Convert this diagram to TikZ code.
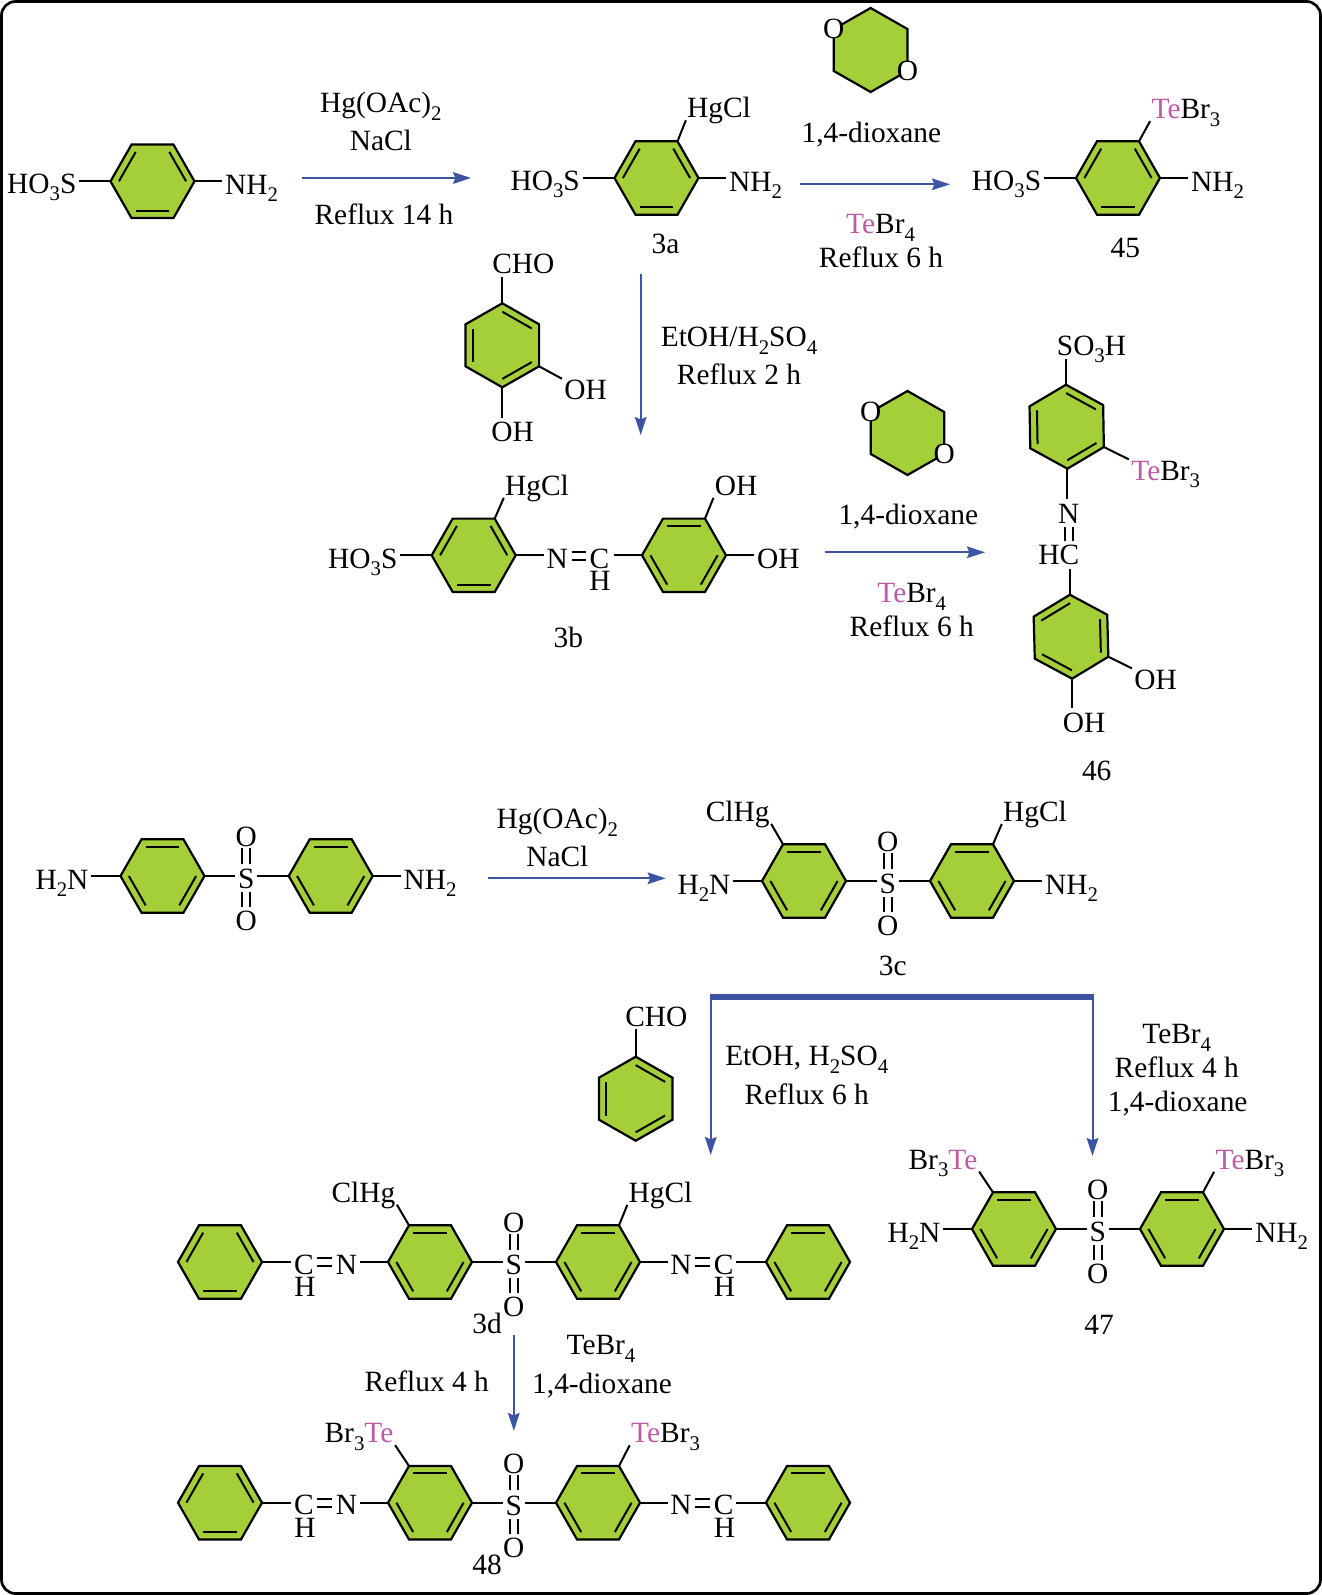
\documentclass[tikz,border=0pt]{standalone}
\usepackage{fontspec}
\setmainfont{Liberation Serif}
\usetikzlibrary{calc,arrows.meta}
\definecolor{ringgreen}{HTML}{A5CF39}
\definecolor{rxnblue}{HTML}{3B54A4}
\definecolor{tecol}{HTML}{BE5AA6}
\newcommand{\sbs}[1]{\raisebox{-0.26em}{\fontsize{10.4}{11}\selectfont #1}}
\newcommand{\TE}{\textcolor{tecol}{Te}}
\tikzset{
  lbl/.style={inner sep=0pt,text height=9.7pt,text depth=0pt,font=\fontsize{14.7}{16}\selectfont},
  ringedge/.style={draw=black,fill=ringgreen,line width=1.1pt,line join=miter},
  innerbond/.style={draw=black,line width=1pt},
  bond/.style={draw=black,line width=1pt,shorten >=1.2pt},
  dblbond/.style={draw=black,line width=.95pt},
  rxn/.style={draw=rxnblue,line width=1pt,-{Stealth[length=9pt,width=5.8pt,inset=1.2pt]}},
  ringO/.style={lbl,circle,fill=white,minimum size=0pt,inner sep=-1.9pt},
}
% flat-topped ring
\newcommand{\hring}[3]{%
  \begin{scope}[shift={(#2,#3)}]
    \coordinate (#1c) at (0,0);
    \coordinate (#1L) at (-42,0);
    \coordinate (#1TL) at (-21,-36.7);
    \coordinate (#1TR) at (21,-36.7);
    \coordinate (#1R) at (42,0);
    \coordinate (#1BR) at (21,36.7);
    \coordinate (#1BL) at (-21,36.7);
    \draw[ringedge] (#1L)--(#1TL)--(#1TR)--(#1R)--(#1BR)--(#1BL)--cycle;
  \end{scope}}
% pointy-topped ring
\newcommand{\vring}[4]{%
  \begin{scope}[shift={(#2,#3)},rotate=#4]
    \coordinate (#1c) at (0,0);
    \coordinate (#1T) at (0,-42);
    \coordinate (#1UR) at (36.8,-21);
    \coordinate (#1LR) at (36.8,21);
    \coordinate (#1B) at (0,42);
    \coordinate (#1LL) at (-36.8,21);
    \coordinate (#1UL) at (-36.8,-21);
    \draw[ringedge] (#1T)--(#1UR)--(#1LR)--(#1B)--(#1LL)--(#1UL)--cycle;
  \end{scope}}
\newcommand{\dblb}[2]{%
  \foreach \a/\b in {#2} {\draw[innerbond] ($(#1c)!0.8!(#1\a)$) -- ($(#1c)!0.8!(#1\b)$);}}
\newcommand{\ringA}[3]{\hring{#1}{#2}{#3}\dblb{#1}{L/TL,TR/R,BR/BL}}
\newcommand{\ringB}[3]{\hring{#1}{#2}{#3}\dblb{#1}{TL/TR,L/BL,R/BR}}
% sulfone bridge between two rings
\newcommand{\sulfo}[4]{% prefix, x, ring y, rings prefix pair handled by caller
  \node[lbl] (#1S) at (#2,#3+3) {S};
  \node[lbl] (#1Oa) at (#2,#3-39.3) {O};
  \node[lbl] (#1Ob) at (#2,#3+44.7) {O};
  \foreach \d in {-2pt,2pt} {
    \draw[dblbond,shorten <=.8pt,shorten >=2.6pt] ([xshift=\d]#1Oa.south) -- ([xshift=\d]#1S.north);
    \draw[dblbond,shorten <=1.6pt,shorten >=1.8pt] ([xshift=\d]#1S.south) -- ([xshift=\d]#1Ob.north);
  }}
% imine double bond between two atoms
\newcommand{\imine}[2]{%
  \draw[dblbond,shorten <=1.6pt,shorten >=1.6pt] ([yshift=3.3pt]#1.east) -- ([yshift=3.3pt]#2.west);
  \draw[dblbond,shorten <=1.6pt,shorten >=1.6pt] ([yshift=-.7pt]#1.east) -- ([yshift=-.7pt]#2.west);}
% a row of four rings (3d, 48)
\newcommand{\longrow}[4]{% prefix, ring y, left label, right label
  \ringA{#1a}{220}{#2}
  \ringB{#1b}{430}{#2}
  \ringB{#1c}{598}{#2}
  \ringB{#1d}{808}{#2}
  \sulfo{#1s}{513.8}{#2}{}
  \node[lbl] (#1C1) at (304,#2+2.5) {C};
  \node[lbl] (#1H1) at (305,#2+25) {H};
  \node[lbl] (#1N1) at (346.4,#2+2.5) {N};
  \node[lbl] (#1N2) at (681,#2+2.5) {N};
  \node[lbl] (#1C2) at (723.7,#2+2.5) {C};
  \node[lbl] (#1H2) at (724.5,#2+25) {H};
  \imine{#1C1}{#1N1}
  \imine{#1N2}{#1C2}
  \draw[bond] (#1aR) -- (#1aR -| #1C1.west);
  \draw[bond] (#1bL) -- (#1bL -| #1N1.east);
  \draw[bond] (#1bR) -- (#1bR -| #1sS.west);
  \draw[bond] (#1cL) -- (#1cL -| #1sS.east);
  \draw[bond] (#1cR) -- (#1cR -| #1N2.west);
  \draw[bond] (#1dL) -- (#1dL -| #1C2.east);
  \node[lbl] (#1lab1) at (#3) {#4};
  }
\begin{document}
\begin{tikzpicture}[x=.5pt,y=-.5pt]
\useasboundingbox (0,0) rectangle (1322,1595);
\draw[line width=1.35pt,rounded corners=7pt,fill=white] (1.5,1.5) rectangle (1320.5,1593.5);

% ---------- row 1
\ringA{ra}{152.5}{181.3}
\node[lbl] (ho1) at (41.8,183.5) {HO\sbs{3}S};
\node[lbl] (nh1) at (251.5,184.5) {NH\sbs{2}};
\draw[bond] (raL) -- (raL -| ho1.east);
\draw[bond] (raR) -- (raR -| nh1.west);

\coordinate (a1s) at (301.8,178); \coordinate (a1e) at (471,178);
\draw[rxn] (a1s) -- (a1e);
\node[lbl] (t1a) at (380.8,103) {Hg(OAc)\sbs{2}};
\node[lbl] (t1b) at (380.8,140.5) {NaCl};
\node[lbl] (t1c) at (384,215) {Reflux 14 h};

% 3a
\ringA{rb}{656.5}{178}
\node[lbl] (ho2) at (545.2,180.5) {HO\sbs{3}S};
\node[lbl] (nh2) at (755.5,181.5) {NH\sbs{2}};
\node[lbl] (hg3a) at (719,108) {HgCl};
\node[lbl] (l3a) at (665.5,244) {3a};
\draw[bond] (rbL) -- (rbL -| ho2.east);
\draw[bond] (rbR) -- (rbR -| nh2.west);
\draw[bond] (rbTR) -- (hg3a.south west);

% dioxane 1
\vring{dxa}{870.6}{50}{0}
\node[ringO] (oa1) at (dxaUL) {O};
\node[ringO] (oa2) at (dxaLR) {O};
\node[lbl] (t2a) at (871.4,132.7) {1,4-dioxane};
\coordinate (a2s) at (800.4,184.3); \coordinate (a2e) at (950,184.3);
\draw[rxn] (a2s) -- (a2e);
\node[lbl] (t2b) at (880.6,224) {\TE Br\sbs{4}};
\node[lbl] (t2c) at (881,258) {Reflux 6 h};

% 45
\ringA{rc}{1118}{178}
\node[lbl] (ho3) at (1006.5,180.5) {HO\sbs{3}S};
\node[lbl] (nh3) at (1217.5,181.5) {NH\sbs{2}};
\node[lbl] (te45) at (1186,109) {\TE Br\sbs{3}};
\node[lbl] (l45) at (1125.4,248) {45};
\draw[bond] (rcL) -- (rcL -| ho3.east);
\draw[bond] (rcR) -- (rcR -| nh3.west);
\draw[bond] (rcTR) -- (te45.south west);

% ---------- aldehyde + 3b
\coordinate (a3s) at (640.7,274); \coordinate (a3e) at (640.7,435);
\draw[rxn] (a3s) -- (a3e);
\node[lbl] (t3a) at (739,337) {EtOH/H\sbs{2}SO\sbs{4}};
\node[lbl] (t3b) at (739,375) {Reflux 2 h};

\vring{rd}{502.3}{345.3}{0}
\dblb{rd}{T/UR,UL/LL,LR/B}
\node[lbl] (cho1) at (523.3,264) {CHO};
\node[lbl] (oh1) at (585.7,390) {OH};
\node[lbl] (oh2) at (512.7,432) {OH};
\draw[bond] (rdT) -- (rdT |- cho1.south);
\draw[bond] (rdLR) -- (oh1.north west);
\draw[bond,shorten >=2pt] (rdB) -- (rdB |- oh2.north);

\ringA{re}{473.7}{555.3}
\ringB{rf}{684}{555.3}
\node[lbl] (ho4) at (362.8,558.3) {HO\sbs{3}S};
\node[lbl] (hg3b) at (537,485.5) {HgCl};
\node[lbl] (n3b) at (557.3,558.3) {N};
\node[lbl] (c3b) at (599.3,558.3) {C};
\node[lbl] (h3b) at (600,580.7) {H};
\node[lbl] (oh3) at (736,485.5) {OH};
\node[lbl] (oh4) at (778.3,558.3) {OH};
\node[lbl] (l3b) at (568.3,637.7) {3b};
\draw[bond] (reL) -- (reL -| ho4.east);
\draw[bond] (reTR) -- (hg3b.south west);
\draw[bond] (reR) -- (reR -| n3b.west);
\imine{n3b}{c3b}
\draw[bond,shorten >=2.2pt] (rfL) -- (rfL -| c3b.east);
\draw[bond] (rfTR) -- (oh3.south west);
\draw[bond] (rfR) -- (rfR -| oh4.west);

% dioxane 2 and arrow
\vring{dxb}{907.5}{433}{0}
\node[ringO] (ob1) at (dxbUL) {O};
\node[ringO] (ob2) at (dxbLR) {O};
\node[lbl] (t4a) at (908.3,515) {1,4-dioxane};
\coordinate (a4s) at (824.7,552.3); \coordinate (a4e) at (985,552.3);
\draw[rxn] (a4s) -- (a4e);
\node[lbl] (t4b) at (911.7,593) {\TE Br\sbs{4}};
\node[lbl] (t4c) at (911.7,626.7) {Reflux 6 h};

% 46
\vring{rg}{1066.7}{426.7}{1}
\dblb{rg}{T/UR,UL/LL,LR/B}
\vring{rh}{1071}{636.7}{1.5}
\dblb{rh}{T/UL,UR/LR,LL/B}
\node[lbl] (so3) at (1091.5,345.5) {SO\sbs{3}H};
\node[lbl] (te46) at (1165.7,470.5) {\TE Br\sbs{3}};
\node[lbl] (n46) at (1068.7,513.3) {N};
\node[lbl] (hc46) at (1058.7,555) {HC};
\node[lbl] (oh5) at (1155.7,679.5) {OH};
\node[lbl] (oh6) at (1084,722.3) {OH};
\node[lbl] (l46) at (1096.7,771) {46};
\draw[bond,shorten >=1.5pt] (rgT) -- (rgT |- so3.south);
\draw[bond] (rgLR) -- (te46.north west);
\draw[bond,shorten >=2pt] (rgB) -- (rgB |- n46.north);
\foreach \d in {-2pt,2pt}{
  \draw[dblbond,shorten <=1.8pt,shorten >=1.8pt] ([xshift=\d]n46.south) -- ([xshift=\d]n46.south |- hc46.north);}
\draw[bond,shorten >=1.8pt] (rhT) -- (rhT |- hc46.south);
\draw[bond] (rhLR) -- (oh5.north west);
\draw[bond,shorten >=2pt] (rhB) -- (rhB |- oh6.north);

% ---------- dapsone
\ringB{ri}{162.5}{876}
\ringB{rj}{330.7}{876}
\sulfo{sa}{246.3}{876}{}
\node[lbl] (h2n1) at (62,879.5) {H\sbs{2}N};
\node[lbl] (nh4) at (430,879.5) {NH\sbs{2}};
\draw[bond] (riL) -- (riL -| h2n1.east);
\draw[bond] (rjR) -- (rjR -| nh4.west);
\draw[bond] (riR) -- (riR -| saS.west);
\draw[bond] (rjL) -- (rjL -| saS.east);
\coordinate (a5s) at (487.7,878.3); \coordinate (a5e) at (665.7,878.3);
\draw[rxn] (a5s) -- (a5e);
\node[lbl] (t5a) at (557.3,819) {Hg(OAc)\sbs{2}};
\node[lbl] (t5b) at (557.3,856.3) {NaCl};

% 3c
\ringB{rk}{804}{881}
\ringB{rl}{972}{881}
\sulfo{sb}{887.7}{881}{}
\node[lbl] (h2n2) at (704,884.5) {H\sbs{2}N};
\node[lbl] (nh5) at (1071.5,884.5) {NH\sbs{2}};
\node[lbl] (clhg1) at (737.7,811.7) {ClHg};
\node[lbl] (hgcl2) at (1035,811.7) {HgCl};
\node[lbl] (l3c) at (892.7,965.7) {3c};
\draw[bond] (rkL) -- (rkL -| h2n2.east);
\draw[bond] (rlR) -- (rlR -| nh5.west);
\draw[bond] (rkR) -- (rkR -| sbS.west);
\draw[bond] (rlL) -- (rlL -| sbS.east);
\draw[bond] (rkTL) -- (clhg1.south east);
\draw[bond] (rlTR) -- (hgcl2.south west);

% branching arrows
\coordinate (brL) at (710.7,997); \coordinate (brR) at (1092.5,997);
\coordinate (a6e) at (710.7,1155); \coordinate (a7e) at (1092.5,1156);
\draw[rxnblue,line width=3pt] ([xshift=-.4pt]brL) -- ([xshift=.9pt]brR);
\draw[rxn] (brL) -- (a6e);
\draw[rxn] (brR) -- (a7e);
\node[lbl] (t6a) at (806.7,1056) {EtOH, H\sbs{2}SO\sbs{4}};
\node[lbl] (t6b) at (806.7,1095) {Reflux 6 h};
\node[lbl] (t7a) at (1176.7,1034) {TeBr\sbs{4}};
\node[lbl] (t7b) at (1176.7,1067.7) {Reflux 4 h};
\node[lbl] (t7c) at (1177.7,1101.7) {1,4-dioxane};

% benzaldehyde
\vring{rm}{635.7}{1098.7}{0}
\dblb{rm}{T/UR,UL/LL,LR/B}
\node[lbl] (cho2) at (656.3,1016.7) {CHO};
\draw[bond] (rmT) -- (rmT |- cho2.south);

% 47
\ringB{rn}{1014}{1229}
\ringB{ro}{1182}{1229}
\sulfo{sc}{1097.7}{1229}{}
\node[lbl] (h2n3) at (914,1232.5) {H\sbs{2}N};
\node[lbl] (nh6) at (1281.5,1232.5) {NH\sbs{2}};
\node[lbl] (te47a) at (943,1159.5) {Br\sbs{3}\TE};
\node[lbl] (te47b) at (1250,1159.5) {\TE Br\sbs{3}};
\node[lbl] (l47) at (1099,1324.5) {47};
\draw[bond] (rnL) -- (rnL -| h2n3.east);
\draw[bond] (roR) -- (roR -| nh6.west);
\draw[bond] (rnR) -- (rnR -| scS.west);
\draw[bond] (roL) -- (roL -| scS.east);
\draw[bond] (rnTL) -- (te47a.south east);
\draw[bond] (roTR) -- (te47b.south west);

% 3d
\longrow{u}{1262}{487,1324}{3d}
\node[lbl] (clhg3) at (363.4,1192.5) {ClHg};
\node[lbl] (hgcl3) at (660.5,1192.5) {HgCl};
\draw[bond] (ubTL) -- (clhg3.south east);
\draw[bond] (ucTR) -- (hgcl3.south west);

% arrow to 48
\coordinate (a8s) at (513.8,1335); \coordinate (a8e) at (513.8,1431);
\draw[rxn] (a8s) -- (a8e);
\node[lbl] (t8a) at (601,1345) {TeBr\sbs{4}};
\node[lbl] (t8b) at (426.8,1381.7) {Reflux 4 h};
\node[lbl] (t8c) at (602,1384) {1,4-dioxane};

% 48
\longrow{w}{1502.7}{487,1565}{48}
\node[lbl] (te48a) at (359,1433) {Br\sbs{3}\TE};
\node[lbl] (te48b) at (665.6,1433) {\TE Br\sbs{3}};
\draw[bond] (wbTL) -- (te48a.south east);
\draw[bond] (wcTR) -- (te48b.south west);
\end{tikzpicture}
\end{document}
